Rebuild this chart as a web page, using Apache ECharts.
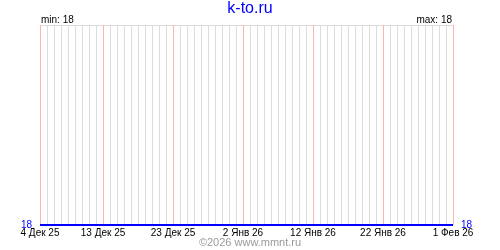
<!DOCTYPE html>
<html><head><meta charset="utf-8">
<script src="https://cdn.jsdelivr.net/npm/echarts@6/dist/echarts.min.js"></script>
<style>html,body{margin:0;padding:0;background:#fff}#c{width:500px;height:250px}</style>
</head><body><div id="c"></div>
<script>
const titleText = 'k-to.ru';
const footerText = '©2026 www.mmnt.ru';
const categories = [
 '4 Дек 25','5 Дек 25','6 Дек 25','7 Дек 25','8 Дек 25','9 Дек 25','10 Дек 25','11 Дек 25','12 Дек 25','13 Дек 25',
 '14 Дек 25','15 Дек 25','16 Дек 25','17 Дек 25','18 Дек 25','19 Дек 25','20 Дек 25','21 Дек 25','22 Дек 25','23 Дек 25',
 '24 Дек 25','25 Дек 25','26 Дек 25','27 Дек 25','28 Дек 25','29 Дек 25','30 Дек 25','31 Дек 25','1 Янв 26','2 Янв 26',
 '3 Янв 26','4 Янв 26','5 Янв 26','6 Янв 26','7 Янв 26','8 Янв 26','9 Янв 26','10 Янв 26','11 Янв 26','12 Янв 26',
 '13 Янв 26','14 Янв 26','15 Янв 26','16 Янв 26','17 Янв 26','18 Янв 26','19 Янв 26','20 Янв 26','21 Янв 26','22 Янв 26',
 '23 Янв 26','24 Янв 26','25 Янв 26','26 Янв 26','27 Янв 26','28 Янв 26','29 Янв 26','30 Янв 26','31 Янв 26','1 Фев 26'
];
const values = [
 18,18,18,18,18,18,18,18,18,18,
 18,18,18,18,18,18,18,18,18,18,
 18,18,18,18,18,18,18,18,18,18,
 18,18,18,18,18,18,18,18,18,18,
 18,18,18,18,18,18,18,18,18,18,
 18,18,18,18,18,18,18,18,18,18
];
const labelIdx = [0, 9, 19, 29, 39, 49, 59];
const yTicks = [18, 19];

const vMin = Math.min(...values), vMax = Math.max(...values);
const FONT = '"Liberation Sans", Arial, sans-serif';
const gray = '#dcdcdc', pink = '#ffb4b4';
const isMajor = (i) => labelIdx.indexOf(i) >= 0;
const lineColors = categories.map((c, i) => isMajor(i) ? pink : gray);

const chart = echarts.init(document.getElementById('c'), null, {renderer:'canvas'});
const yAxisBase = (pos) => ({
  type:'value', position:pos, min:yTicks[0], max:yTicks[1], interval:1,
  axisLine:{show:false},
  axisTick:{show:false},
  splitLine:{show: pos==='left', lineStyle:{color:gray, width:1}},
  axisLabel:{show:true, margin:8, color:'#0000ff', fontFamily:FONT, fontSize:10,
    formatter: v => (v === vMin ? String(v) : ''), verticalAlign:'middle', lineHeight:10,
    padding:[0,0,0,0], showMaxLabel:false}
});
chart.setOption({
  animation:false,
  backgroundColor:'#fff',
  title:{text:titleText, left:'center', top:1, padding:0,
    textStyle:{color:'#0000ff', fontFamily:FONT, fontSize:16, fontWeight:'normal'}},
  graphic:[
    {type:'text', left:41, top:15, style:{text:'min: ' + vMin, font:'10px ' + FONT, fill:'#000'}},
    {type:'text', right:48, top:15, style:{text:'max: ' + vMax, font:'10px ' + FONT, fill:'#000'}},
    {type:'text', left:'center', top:237, style:{text:footerText, font:'11px ' + FONT, fill:'#9a9a9a'}}
  ],
  grid:{left:40, right:47, top:25, bottom:25, containLabel:false},
  xAxis:{type:'category', data:categories, boundaryGap:false,
    axisLine:{show:false}, axisTick:{show:false},
    splitLine:{show:true, interval:0, lineStyle:{color:lineColors, width:1}},
    axisLabel:{interval:(i)=>isMajor(i), margin:3, color:'#000', fontFamily:FONT, fontSize:10,
      showMinLabel:true, showMaxLabel:true, hideOverlap:false}
  },
  yAxis:[yAxisBase('left'), yAxisBase('right')],
  series:[{type:'line', data:values, symbol:'none', lineStyle:{color:'#0000ff', width:2}, z:5}]
});
</script></body></html>
